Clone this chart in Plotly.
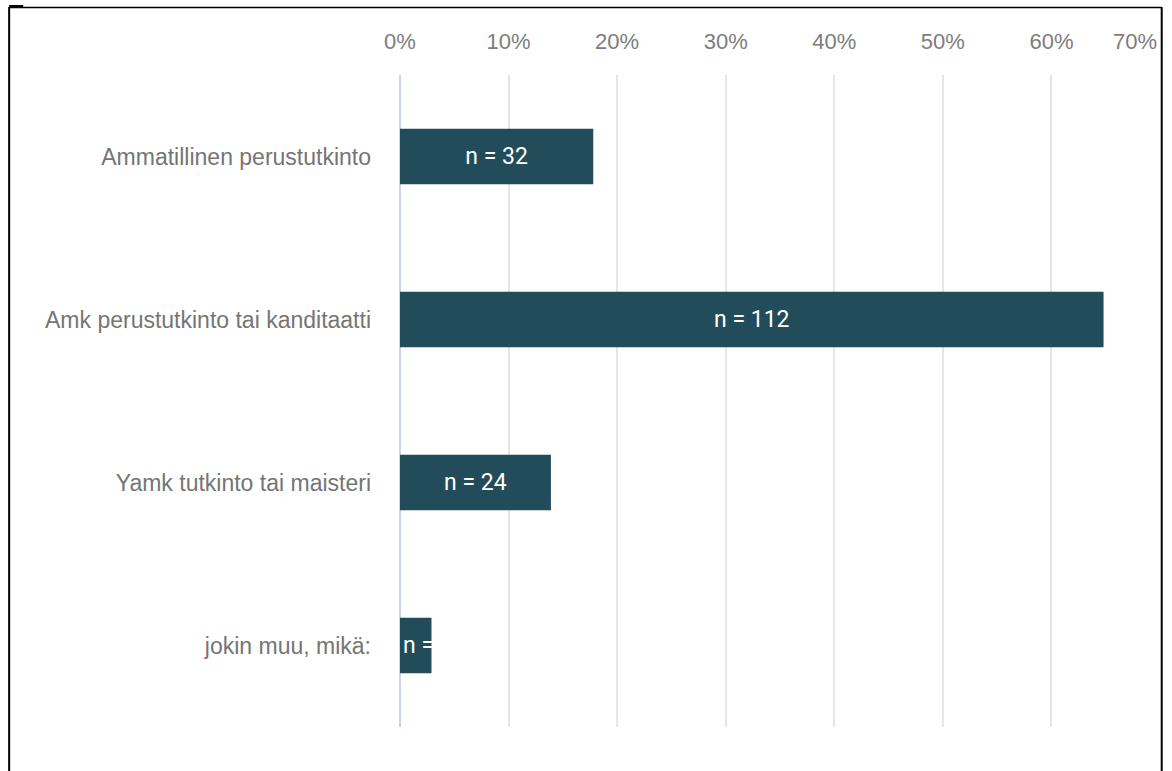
import plotly.graph_objects as go

categories = ["Ammatillinen perustutkinto", "Amk perustutkinto tai kanditaatti",
              "Yamk tutkinto tai maisteri", "jokin muu, mikä:"]
percent = [17.8, 64.8, 13.9, 2.9]
counts = [32, 112, 24, 5]
tick_vals = [0, 10, 20, 30, 40, 50, 60, 70]
tick_text = ["0%", "10%", "20%", "30%", "40%", "50%", "60%", "70%"]

W, H = 1172, 771
L, R, T, B = 400, 1172 - 1160.3, 75, 771 - 727
pw, ph = W - L - R, H - T - B

def px(x):
    return (x - L) / pw

def py(y):
    return (H - B - y) / ph

labels = [f"n = {c}" for c in counts]
BAR = "#234c5a"
TICKCOL = "#7d7d7d"

fig = go.Figure()
fig.add_trace(go.Bar(
    y=categories[:3], x=percent[:3], orientation="h",
    marker=dict(color=BAR, line=dict(width=0)),
    text=labels[:3], textposition="inside", insidetextanchor="middle",
    constraintext="none", textangle=0,
    textfont=dict(family="Roboto", size=23, color="white"),
    hoverinfo="skip",
))
fig.add_trace(go.Bar(
    y=categories[3:], x=percent[3:], orientation="h",
    marker=dict(color=BAR, line=dict(width=0)),
    text=labels[3:], textposition="inside", insidetextanchor="start",
    constraintext="none", textangle=0,
    textfont=dict(family="Roboto", size=23, color="white"),
    hoverinfo="skip",
))

frame = dict(color="black", width=2)
shapes = [
    dict(type="line", xref="paper", yref="paper", x0=px(9), x1=px(9), y0=py(7), y1=py(790), line=frame),
    dict(type="line", xref="paper", yref="paper", x0=px(9), x1=px(1162), y0=py(7.5), y1=py(7.5), line=dict(color="black", width=1.5)),
    dict(type="line", xref="paper", yref="paper", x0=px(9), x1=px(23), y0=py(6.5), y1=py(6.5), line=dict(color="black", width=3)),
    dict(type="line", xref="paper", yref="paper", x0=px(1162), x1=px(1162), y0=py(7), y1=py(790), line=frame),
]

# the last tick label is drawn right-aligned to its tick so it stays inside the frame
shown_ticks = tick_text[:-1] + [""]
annotations = [dict(
    x=tick_vals[-1], xref="x", xanchor="right", xshift=-1,
    y=py(41.5), yref="paper", yanchor="middle",
    text=tick_text[-1], showarrow=False,
    font=dict(family="Liberation Sans", size=22, color=TICKCOL),
)]

fig.update_layout(
    width=W, height=H,
    margin=dict(l=L, r=R, t=T, b=B, autoexpand=False),
    paper_bgcolor="white", plot_bgcolor="white",
    barmode="overlay", bargap=0.66, showlegend=False,
    font=dict(family="Liberation Sans", size=22, color="#757575"),
    xaxis=dict(side="top", range=[0, 70], tickvals=tick_vals, ticktext=shown_ticks,
               showgrid=True, gridcolor="#e6e6e6", gridwidth=1.5,
               zeroline=True, zerolinecolor="#cdd3ec", zerolinewidth=1.5,
               ticks="outside", ticklen=16, tickcolor="rgba(0,0,0,0)",
               tickfont=dict(family="Liberation Sans", size=22, color=TICKCOL),
               showline=False, fixedrange=True),
    yaxis=dict(autorange="reversed", showgrid=False, zeroline=False, showline=False,
               ticks="", ticklabelstandoff=28,
               tickfont=dict(family="Liberation Sans", size=23, color="#757575"),
               fixedrange=True),
    shapes=shapes,
    annotations=annotations,
)

fig.write_html("out.html", config={"displayModeBar": False},
               post_script="document.body.style.margin='0';")
